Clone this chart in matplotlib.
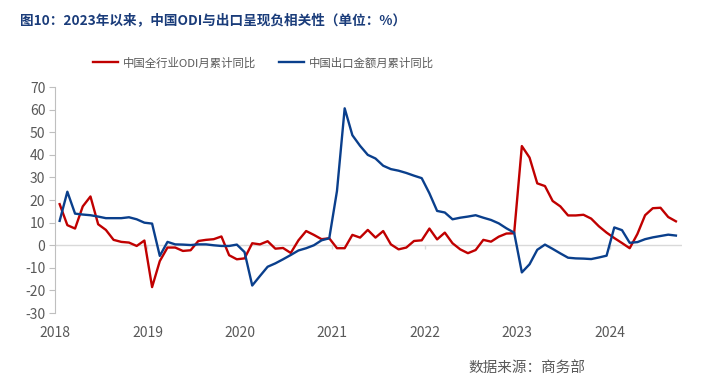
import matplotlib as mpl
mpl.use('Agg')
import matplotlib.pyplot as plt
import numpy as np

mpl.rcParams['font.family'] = ['Noto Sans CJK SC', 'DejaVu Sans']
mpl.rcParams['axes.unicode_minus'] = False

# 月度数据：2018年1月 - 2024年9月
years = ['2018', '2019', '2020', '2021', '2022', '2023', '2024']
odi = [18.2, 8.9, 7.4, 17.2, 21.6, 9.3, 6.8, 2.4, 1.5, 1.2, -0.3, 2.1,
       -18.5, -7.0, -1.0, -1.0, -2.5, -2.2, 1.9, 2.4, 2.7, 3.9, -4.4, -6.2,
       -5.8, 0.9, 0.4, 1.8, -1.5, -1.2, -3.4, 2.2, 6.3, 4.6, 2.7, 3.1,
       -1.3, -1.3, 4.6, 3.4, 6.8, 3.4, 6.3, 0.4, -1.8, -1.0, 1.9, 2.2,
       7.4, 2.6, 5.6, 0.9, -1.8, -3.5, -2.1, 2.4, 1.6, 3.8, 5.2, 5.3,
       43.9, 38.8, 27.4, 26.2, 19.6, 17.2, 13.2, 13.2, 13.5, 11.8, 8.4, 5.6,
       3.2, 1.0, -1.3, 5.0, 13.3, 16.4, 16.6, 12.5, 10.6]
export = [10.8, 23.7, 14.0, 13.6, 13.3, 12.7, 12.0, 12.0, 12.0, 12.4, 11.5, 10.0,
          9.6, -4.7, 1.5, 0.4, 0.3, 0.1, 0.4, 0.4, 0.0, -0.3, -0.3, 0.3,
          -3.0, -17.8, -13.6, -9.5, -8.0, -6.2, -4.3, -2.3, -1.3, 0.0, 2.2, 3.1,
          24.0, 60.6, 48.7, 44.0, 40.0, 38.4, 35.2, 33.7, 33.0, 32.0, 30.8, 29.7,
          23.0, 15.2, 14.5, 11.5, 12.2, 12.7, 13.3, 12.2, 11.2, 9.7, 7.5, 5.6,
          -12.0, -8.4, -2.0, 0.3, -1.6, -3.6, -5.5, -5.8, -5.9, -6.1, -5.4, -4.6,
          7.9, 6.7, 1.1, 1.4, 2.7, 3.5, 4.1, 4.7, 4.3]
series_names = [u'中国全行业ODI月累计同比', u'中国出口金额月累计同比']

gray = '#595959'
x = np.arange(len(odi)) + 0.6
year_pos = np.arange(len(years)) * 12

fig = plt.figure(figsize=(7.01, 3.87), dpi=100)
ax = fig.add_axes([0.0785, 0.191, 0.8945, 0.584])

ax.plot(x, odi, color='#c00000', lw=1.7, label=series_names[0], zorder=3)
ax.plot(x, export, color='#0a3f8c', lw=1.7, label=series_names[1], zorder=3)

# 零轴与年份刻度
ax.axhline(0, color='#d9d9d9', lw=1, zorder=1)
ax.vlines(year_pos[1:], -1.6, 0, color='#d9d9d9', lw=1, zorder=1)

ax.set_xlim(0, 81.4)
ax.set_ylim(-30, 70)
ax.set_yticks(np.arange(-30, 71, 10))
ax.set_xticks(year_pos)
ax.set_xticklabels(years)
ax.tick_params(axis='x', length=0, pad=9, labelsize=10, labelcolor=gray)
ax.tick_params(axis='y', length=4, color='#bfbfbf', pad=3, labelsize=10, labelcolor=gray)
for s in ['top', 'right', 'bottom']:
    ax.spines[s].set_visible(False)
ax.spines['left'].set_color('#bfbfbf')

# 标题
fig.text(0.028, 0.948, u'图10：2023年以来，中国ODI与出口呈现负相关性（单位：%）',
         fontsize=9.8, fontweight='bold', color='#1a3c7a', va='center', ha='left')

# 图例
leg = fig.legend(loc='center', bbox_to_anchor=(0.376, 0.838), ncol=2, frameon=False,
                 fontsize=8.2, handlelength=2.2, columnspacing=2.0, handletextpad=0.4)
for t in leg.get_texts():
    t.set_color(gray)

# 数据来源
fig.text(0.668, 0.049, u'数据来源：商务部', fontsize=10.5, color=gray, va='center', ha='left')

plt.savefig('out.png', dpi=100)
